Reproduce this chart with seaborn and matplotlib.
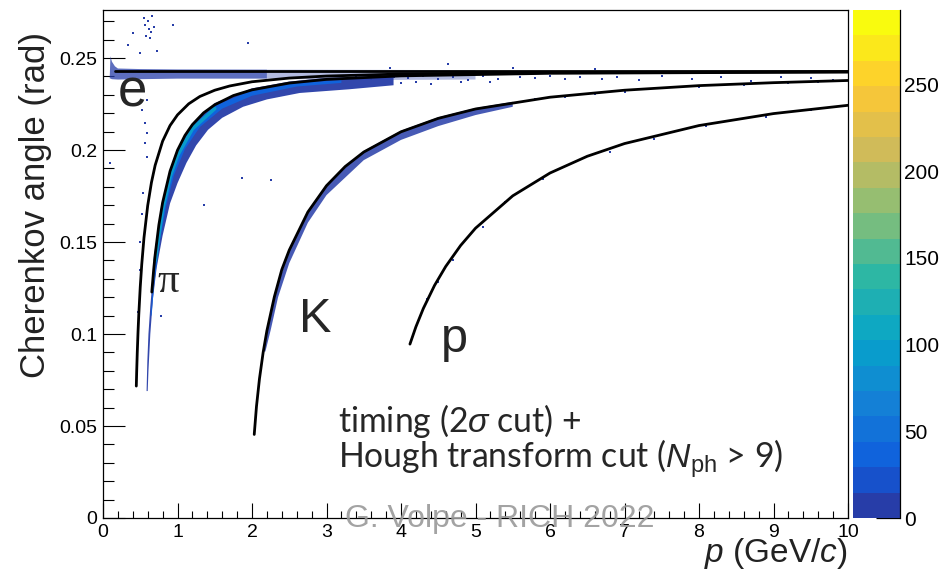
import numpy as np
import pandas as pd
import matplotlib
matplotlib.use("Agg")
import matplotlib.pyplot as plt
import seaborn as sns
from matplotlib.colors import LinearSegmentedColormap, ListedColormap, BoundaryNorm

# ---------------- data ----------------
# expected-angle curves  (p in GeV/c, theta in rad)
e_p = [0.16, 10.0]
e_th = [0.2428, 0.2428]

mu_p = [0.447, 0.452, 0.46, 0.47, 0.48, 0.50, 0.52, 0.55, 0.60, 0.65, 0.70, 0.80, 0.90,
        1.0, 1.15, 1.3, 1.5, 1.7, 2.0, 2.5, 3.0, 4.0, 6.0, 10.0]
mu_th = [0.0717, 0.0794, 0.0900, 0.1010, 0.1103, 0.1256, 0.1378, 0.1523, 0.1698, 0.1823,
         0.1917, 0.2048, 0.2133, 0.2191, 0.2251, 0.2291, 0.2325, 0.2348, 0.2371, 0.2391,
         0.2402, 0.2413, 0.2421, 0.2425]

pi_p = [0.655, 0.68, 0.70, 0.75, 0.80, 0.90, 1.0, 1.1, 1.2, 1.35, 1.5, 1.75, 2.0, 2.5,
        3.0, 4.0, 6.0, 10.0]
pi_th = [0.1228, 0.1349, 0.1430, 0.1593, 0.1714, 0.1885, 0.1999, 0.2079, 0.2138, 0.2202,
         0.2246, 0.2296, 0.2327, 0.2364, 0.2384, 0.2403, 0.2417, 0.2424]

k_p = [2.03, 2.06, 2.10, 2.15, 2.20, 2.30, 2.40, 2.50, 2.75, 3.0, 3.25, 3.5, 4.0, 4.5,
       5.0, 6.0, 7.0, 8.0, 9.0, 10.0]
k_th = [0.0454, 0.0606, 0.0756, 0.0901, 0.1018, 0.1202, 0.1350, 0.1456, 0.1663, 0.1806,
        0.1910, 0.1989, 0.2099, 0.2172, 0.2223, 0.2287, 0.2325, 0.2350, 0.2366, 0.2378]

pr_p = [4.12, 4.20, 4.30, 4.45, 4.60, 4.80, 5.0, 5.5, 6.0, 6.5, 7.0, 8.0, 9.0, 10.0]
pr_th = [0.0945, 0.1039, 0.1139, 0.1264, 0.1367, 0.1481, 0.1575, 0.1751, 0.1875, 0.1966,
         0.2035, 0.2133, 0.2198, 0.2243]

# populated regions of the 2D histogram (outline of each band) and their counts
eband_p = [0.09, 0.10, 0.12, 0.16, 0.20, 0.5, 1.0, 2.2, 2.2, 1.0, 0.5, 0.2, 0.12, 0.09]
eband_th = [0.2390, 0.2510, 0.2480, 0.2455, 0.2443, 0.2440, 0.2438, 0.2437,
            0.2388, 0.2388, 0.2385, 0.2383, 0.2385, 0.2390]
eband_count = 8
etail_p = [2.2, 3.4, 5.0, 5.0, 3.4, 2.2]
etail_th = [0.2437, 0.2436, 0.2434, 0.2383, 0.2380, 0.2388]
etail_count = 3

piband_p = [0.585, 0.595, 0.61, 0.635, 0.66, 0.70, 0.75, 0.80, 0.90, 1.0, 1.2, 1.5, 2.0,
            2.5, 3.0, 3.9, 3.9, 3.3, 2.64, 2.2, 1.88, 1.6, 1.41, 1.25, 1.12, 1.0, 0.90,
            0.80, 0.72, 0.67, 0.635, 0.61, 0.60]
piband_th = [0.069, 0.085, 0.100, 0.115, 0.127, 0.143, 0.159, 0.1715, 0.189, 0.2005,
             0.2145, 0.2255, 0.2335, 0.2372, 0.2392, 0.2405, 0.2352, 0.2330, 0.2310,
             0.2275, 0.2235, 0.2175, 0.2110, 0.2025, 0.1930, 0.1820, 0.1710, 0.1535,
             0.1360, 0.1190, 0.1000, 0.0800, 0.0690]
piband_count = 10

pimid_p = [0.64, 0.70, 0.80, 0.90, 1.0, 1.2, 1.5, 2.0, 2.6, 3.2, 3.2, 2.6, 2.0, 1.6, 1.3,
           1.1, 0.95, 0.85, 0.76, 0.69, 0.65]
pimid_th = [0.110, 0.141, 0.170, 0.187, 0.1985, 0.213, 0.224, 0.2325, 0.2365, 0.238,
            0.2365, 0.2345, 0.2295, 0.2225, 0.2125, 0.2005, 0.186, 0.170, 0.150, 0.128,
            0.110]
pimid_count = 30

picore_p = [0.70, 0.80, 0.90, 1.0, 1.2, 1.5]
picore_th = [0.1400, 0.1680, 0.1855, 0.1970, 0.2115, 0.2225]
picore_count = 95

kband_p = [2.15, 2.2, 2.3, 2.5, 2.75, 3.0, 3.5, 4.0, 4.5, 5.0, 5.5, 5.5, 5.0, 4.5, 4.0,
           3.5, 3.0, 2.75, 2.5, 2.35, 2.25, 2.18]
kband_th = [0.0905, 0.102, 0.1205, 0.146, 0.1668, 0.1812, 0.1995, 0.2105, 0.2178, 0.2228,
            0.2262, 0.2235, 0.2190, 0.2130, 0.2055, 0.1945, 0.1755, 0.1605, 0.1385, 0.120,
            0.102, 0.0905]
kband_count = 10

# isolated filled cells
dot_p = [0.55, 0.57, 0.60, 0.62, 0.64, 0.66, 0.58, 0.63, 0.69, 0.94, 0.40, 1.95, 0.34,
         0.50, 0.72, 0.59, 0.52, 0.56, 0.59, 0.56, 0.59, 0.54, 0.52, 0.50, 0.49, 0.47,
         0.094, 1.86, 2.26, 0.78, 1.35,
         3.4, 3.6, 3.85, 3.9, 4.1, 4.3, 4.5, 4.63, 4.7, 4.9, 5.1, 5.3, 5.5, 5.6, 5.8, 6.0,
         6.2, 6.4, 6.6, 6.7, 6.9, 7.2, 7.5, 7.9, 8.3, 8.7, 9.1, 9.5, 9.8,
         4.0, 4.2, 4.4, 4.8, 5.2,
         5.8, 6.2, 6.6, 7.0, 7.5, 8.0, 8.6, 9.2, 9.6,
         4.35, 4.5, 4.7, 5.1, 5.4, 5.9, 6.3, 6.8, 7.4, 8.1, 8.9, 9.5]
dot_th = [0.272, 0.268, 0.270, 0.266, 0.264, 0.273, 0.262, 0.261, 0.267, 0.268, 0.2636,
          0.258, 0.257, 0.253, 0.254, 0.227, 0.222, 0.2147, 0.209, 0.204, 0.196, 0.1766,
          0.165, 0.150, 0.135, 0.112,
          0.193, 0.1846, 0.1837, 0.110, 0.170,
          0.2395, 0.2385, 0.2447, 0.2398, 0.2390, 0.2402, 0.2385, 0.2467, 0.2395, 0.2380,
          0.2400, 0.2388, 0.2445, 0.2398, 0.2390, 0.2403, 0.2385, 0.2398, 0.2440, 0.2388,
          0.2395, 0.2380, 0.2400, 0.2385, 0.2395, 0.2375, 0.2398, 0.2390, 0.2380,
          0.2365, 0.2372, 0.2360, 0.2368, 0.2372,
          0.2275, 0.2290, 0.2305, 0.2315, 0.2335, 0.2345, 0.2352, 0.2365, 0.2370,
          0.119, 0.128, 0.140, 0.158, 0.172, 0.184, 0.193, 0.199, 0.206, 0.213, 0.218,
          0.222]
dot_count = 5

x_ticks = [0, 1, 2, 3, 4, 5, 6, 7, 8, 9, 10]
x_ticklabels = ["0", "1", "2", "3", "4", "5", "6", "7", "8", "9", "10"]
y_ticks = [0, 0.05, 0.10, 0.15, 0.20, 0.25]
y_ticklabels = ["0", "0.05", "0.1", "0.15", "0.2", "0.25"]
z_ticks = [0, 50, 100, 150, 200, 250]
z_max = 293

# ---------------- style ----------------
sns.set_theme(style="ticks")
plt.rcParams['font.family'] = ['Liberation Sans', 'DejaVu Sans']
plt.rcParams['mathtext.fontset'] = 'custom'
plt.rcParams['mathtext.rm'] = 'Liberation Sans'
plt.rcParams['mathtext.it'] = 'Liberation Sans:italic'

# ROOT kBird palette, 20 contour levels
stops = [0.0, 0.125, 0.25, 0.375, 0.5, 0.625, 0.75, 0.875, 1.0]
red = [0.2082, 0.0592, 0.0780, 0.0232, 0.1802, 0.5301, 0.8186, 0.9956, 0.9764]
green = [0.1664, 0.3599, 0.5041, 0.6419, 0.7178, 0.7492, 0.7328, 0.7862, 0.9832]
blue = [0.5293, 0.8684, 0.8385, 0.7914, 0.6425, 0.4662, 0.3499, 0.1968, 0.0539]
base = LinearSegmentedColormap.from_list(
    "kBird", [(s, (r, g, b)) for s, r, g, b in zip(stops, red, green, blue)])
nlev = 20
cmap = ListedColormap([base(min((i + 0.99) / nlev, 1.0)) for i in range(nlev)])
bounds = np.linspace(0, z_max, nlev + 1)
norm = BoundaryNorm(bounds, nlev)

def zc(v):
    return cmap(norm(v))

fig = plt.figure(figsize=(9.48, 5.76), dpi=100)
W, H = 948.0, 576.0
ax = fig.add_axes([103 / W, 1 - 518 / H, 745 / W, 508 / H])
cax = fig.add_axes([853 / W, 1 - 518 / H, 47 / W, 508 / H])

# ---------------- 2D histogram content ----------------
ax.fill(eband_p, eband_th, color=zc(eband_count), lw=0, alpha=0.75, zorder=1)
ax.fill(etail_p, etail_th, color=zc(etail_count), lw=0, alpha=0.35, zorder=1)
ax.fill(piband_p, piband_th, color=zc(piband_count), lw=0, alpha=0.95, zorder=1.1)
ax.fill(pimid_p, pimid_th, color=zc(pimid_count), lw=0, zorder=1.2)
ax.fill(kband_p, kband_th, color=zc(kband_count), lw=0, alpha=0.85, zorder=1)
sns.lineplot(x=picore_p, y=picore_th, ax=ax, color=zc(picore_count), lw=2.6,
             sort=False, estimator=None, zorder=1.4)
sns.scatterplot(x=dot_p, y=dot_th, ax=ax, color=zc(dot_count), marker="s", s=3,
                linewidth=0, zorder=2)

# ---------------- expected curves ----------------
for cp, ct in [(e_p, e_th), (mu_p, mu_th), (pi_p, pi_th), (k_p, k_th), (pr_p, pr_th)]:
    sns.lineplot(x=cp, y=ct, ax=ax, color="black", lw=2.0, sort=False,
                 estimator=None, zorder=3)

# ---------------- axes ----------------
ax.set_xlim(0, 10)
ax.set_ylim(0, 0.2761)
ax.set_xticks(x_ticks)
ax.set_xticklabels(x_ticklabels)
ax.set_yticks(y_ticks)
ax.set_yticklabels(y_ticklabels)
ax.set_xticks(np.arange(0, 10.01, 0.2), minor=True)
ax.set_yticks(np.arange(0, 0.2761, 0.01), minor=True)
ax.tick_params(axis="both", which="both", direction="in", top=False, right=False,
               colors="black", width=0.8, labelsize=14)
ax.tick_params(axis="y", which="major", length=15.8, pad=4)
ax.tick_params(axis="y", which="minor", length=7.9)
ax.tick_params(axis="x", which="major", length=10.8, pad=4)
ax.tick_params(axis="x", which="minor", length=5.4)
for sp in ax.spines.values():
    sp.set_visible(True)
    sp.set_color("black")
    sp.set_linewidth(0.9)
ax.set_facecolor("white")
ax.grid(False)

ax.set_ylabel("Cherenkov angle (rad)", fontsize=25, color="#222222")
ax.yaxis.set_label_coords((52 - 103) / 745, (518 - 205) / 508)
ax.set_xlabel(r"$p$ (GeV/$c$)", fontsize=24, color="#222222", ha="right")
ax.xaxis.set_label_coords(1.0, -(536 - 518) / 508)

# particle labels
ax.text(0.20, 0.2239, "e", fontsize=38, ha="left", va="baseline", zorder=4)
ax.text(0.725, 0.1228, "π", fontsize=31, ha="left", va="baseline",
        family=["Liberation Serif", "DejaVu Serif"], zorder=4)
ax.text(2.63, 0.1011, "K", fontsize=35, ha="left", va="baseline", zorder=4)
ax.text(4.54, 0.0902, "p", fontsize=35, ha="left", va="baseline", zorder=4)

# annotation
ax.text(3.155, 0.0468, r"timing (2$\sigma$ cut) +", fontsize=24.3, ha="left",
        va="baseline", family=["Lato", "DejaVu Sans"], zorder=4)
ax.text(3.155, 0.0272, r"Hough transform cut ($N_{\rm ph}$ > 9)", fontsize=24.3,
        ha="left", va="baseline", family=["Lato", "DejaVu Sans"], zorder=4)

# watermark
fig.text(500 / W, 1 - 519 / H, "G. Volpe - RICH 2022", fontsize=23, color="#999999",
         alpha=0.9, ha="center", va="center", zorder=10)

# ---------------- colour bar (palette axis) ----------------
level_mid = (bounds[:-1] + bounds[1:]) / 2
cax.pcolormesh([0, 1], bounds, level_mid.reshape(-1, 1), cmap=cmap, norm=norm,
               shading="flat")
cax.set_xlim(0, 1)
cax.set_ylim(0, z_max)
cax.set_xticks([])
cax.yaxis.tick_right()
cax.set_yticks(z_ticks)
cax.set_yticklabels([str(t) for t in z_ticks])
cax.tick_params(axis="y", direction="in", length=17, width=0.9, labelsize=15,
                pad=3, colors="black", right=True, left=False)
for name, sp in cax.spines.items():
    sp.set_visible(name == "right")
    sp.set_color("black")
    sp.set_linewidth(0.9)

fig.savefig("out.png", dpi=100, facecolor="white")
